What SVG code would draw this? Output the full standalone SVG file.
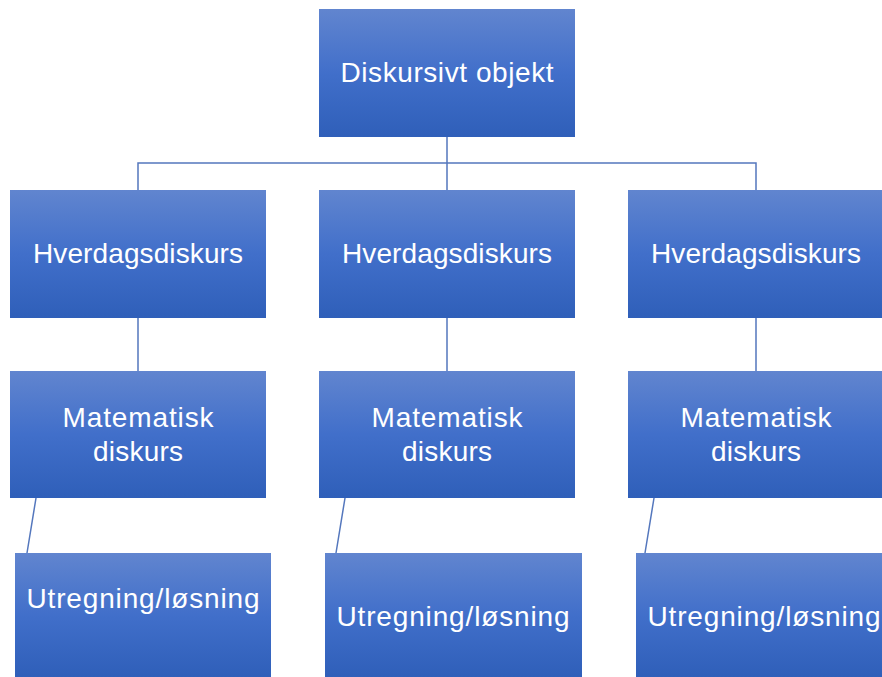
<svg xmlns="http://www.w3.org/2000/svg" width="882" height="677" viewBox="0 0 882 677">
<defs>
<linearGradient id="g" x1="0" y1="0" x2="0" y2="1">
<stop offset="0" stop-color="#6185CF"/>
<stop offset="0.5" stop-color="#416FCA"/>
<stop offset="1" stop-color="#2F5FB9"/>
</linearGradient>
</defs>
<style>
.box{fill:url(#g)}
.t{font-family:"Liberation Sans",Arial,sans-serif;font-size:28px;fill:#ffffff;text-anchor:middle}
.c{stroke:#5477BD;stroke-width:1.5;fill:none}
</style>
<rect width="882" height="677" fill="#ffffff"/>
<g id="connectors">
<path class="c" d="M447 137V190M138 190V163H756V190"/>
<path class="c" d="M138 318V371M447 318V371M756 318V371"/>
<path class="c" d="M36 498L27 553M345 498L336 553M654 498L645 553"/>
</g>
<g id="root"><rect class="box" x="319" y="9" width="256" height="128"/><text class="t" x="447" y="82" textLength="213">Diskursivt objekt</text></g>
<g id="hv1"><rect class="box" x="10" y="190" width="256" height="128"/><text class="t" x="138" y="263" textLength="210">Hverdagsdiskurs</text></g>
<g id="hv2"><rect class="box" x="319" y="190" width="256" height="128"/><text class="t" x="447" y="263" textLength="210">Hverdagsdiskurs</text></g>
<g id="hv3"><rect class="box" x="628" y="190" width="256" height="128"/><text class="t" x="756" y="263" textLength="210">Hverdagsdiskurs</text></g>
<g id="ma1"><rect class="box" x="10" y="371" width="256" height="127"/><text class="t" x="138" y="427" textLength="151">Matematisk</text><text class="t" x="138" y="461" textLength="90">diskurs</text></g>
<g id="ma2"><rect class="box" x="319" y="371" width="256" height="127"/><text class="t" x="447" y="427" textLength="151">Matematisk</text><text class="t" x="447" y="461" textLength="90">diskurs</text></g>
<g id="ma3"><rect class="box" x="628" y="371" width="256" height="127"/><text class="t" x="756" y="427" textLength="151">Matematisk</text><text class="t" x="756" y="461" textLength="90">diskurs</text></g>
<g id="ut1"><rect class="box" x="15" y="553" width="256" height="124"/><text class="t" x="143" y="608" textLength="233">Utregning/løsning</text></g>
<g id="ut2"><rect class="box" x="325" y="553" width="257" height="124"/><text class="t" x="453" y="626" textLength="233">Utregning/løsning</text></g>
<g id="ut3"><rect class="box" x="636" y="553" width="256" height="124"/><text class="t" x="764" y="626" textLength="233">Utregning/løsning</text></g>
</svg>
